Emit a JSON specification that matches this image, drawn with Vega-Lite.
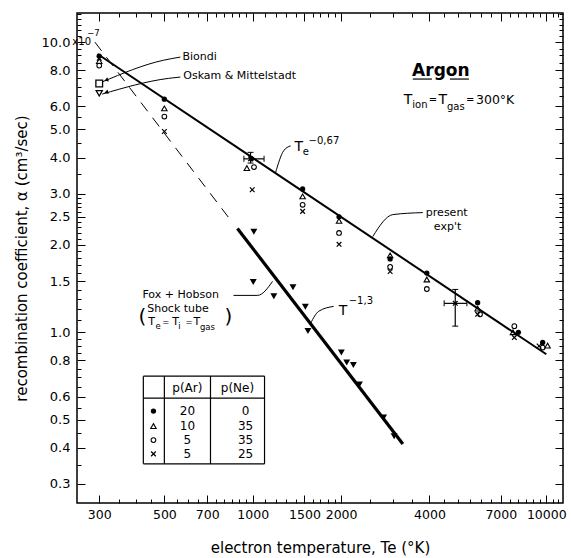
{
  "$schema": "https://vega.github.io/schema/vega-lite/v6.json",
  "width": 486,
  "height": 490,
  "autosize": "none",
  "padding": {"left": 77, "top": 13, "right": 8, "bottom": 55},
  "background": "white",
  "config": {
    "view": {"stroke": "black", "strokeWidth": 1.5},
    "font": "DejaVu Sans",
    "axis": {"grid": false, "domain": false, "tickColor": "black", "labelColor": "black", "titleColor": "black"}
  },
  "datasets": {
    "points": [
      {"T": 300, "alpha": 8.95, "s": "dot"}, {"T": 500, "alpha": 6.36, "s": "dot"}, {"T": 990, "alpha": 3.96, "s": "dot"},
      {"T": 1479, "alpha": 3.12, "s": "dot"}, {"T": 1968, "alpha": 2.5, "s": "dot"}, {"T": 2938, "alpha": 1.79, "s": "dot"},
      {"T": 3918, "alpha": 1.6, "s": "dot"}, {"T": 5836, "alpha": 1.265, "s": "dot"}, {"T": 8034, "alpha": 1.0, "s": "dot"},
      {"T": 9720, "alpha": 0.922, "s": "dot"}, {"T": 459, "alpha": 0.535, "s": "dot"},
      {"T": 300, "alpha": 8.6, "s": "tri"}, {"T": 500, "alpha": 5.91, "s": "tri"}, {"T": 955, "alpha": 3.68, "s": "tri"},
      {"T": 1479, "alpha": 2.94, "s": "tri"}, {"T": 1968, "alpha": 2.42, "s": "tri"}, {"T": 2938, "alpha": 1.84, "s": "tri"},
      {"T": 3918, "alpha": 1.52, "s": "tri"}, {"T": 5836, "alpha": 1.206, "s": "tri"}, {"T": 7700, "alpha": 1.0, "s": "tri"},
      {"T": 10100, "alpha": 0.9, "s": "tri"}, {"T": 459, "alpha": 0.475, "s": "tri"},
      {"T": 300, "alpha": 8.3, "s": "circ"}, {"T": 500, "alpha": 5.54, "s": "circ"}, {"T": 1010, "alpha": 3.71, "s": "circ"},
      {"T": 1479, "alpha": 2.75, "s": "circ"}, {"T": 1968, "alpha": 2.2, "s": "circ"}, {"T": 2938, "alpha": 1.68, "s": "circ"},
      {"T": 3918, "alpha": 1.41, "s": "circ"}, {"T": 5947, "alpha": 1.153, "s": "circ"}, {"T": 7783, "alpha": 1.05, "s": "circ"},
      {"T": 9720, "alpha": 0.886, "s": "circ"}, {"T": 459, "alpha": 0.425, "s": "circ"},
      {"T": 300, "alpha": 8.8, "s": "x"}, {"T": 500, "alpha": 4.92, "s": "x"}, {"T": 983, "alpha": 3.96, "s": "x"},
      {"T": 996, "alpha": 3.1, "s": "x"}, {"T": 1479, "alpha": 2.61, "s": "x"}, {"T": 1968, "alpha": 2.01, "s": "x"},
      {"T": 2938, "alpha": 1.62, "s": "x"}, {"T": 4896, "alpha": 1.258, "s": "x"}, {"T": 5836, "alpha": 1.153, "s": "x"},
      {"T": 7783, "alpha": 0.959, "s": "x"}, {"T": 9450, "alpha": 0.897, "s": "x"}, {"T": 459, "alpha": 0.381, "s": "x"},
      {"T": 300, "alpha": 7.2, "s": "sq"},
      {"T": 300, "alpha": 6.66, "s": "tdown"},
      {"T": 1009, "alpha": 2.22, "s": "fox"}, {"T": 1004, "alpha": 1.49, "s": "fox"}, {"T": 1180, "alpha": 1.33, "s": "fox"},
      {"T": 1371, "alpha": 1.43, "s": "fox"}, {"T": 1511, "alpha": 1.225, "s": "fox"}, {"T": 1542, "alpha": 1.01, "s": "fox"},
      {"T": 2004, "alpha": 0.852, "s": "fox"}, {"T": 2090, "alpha": 0.787, "s": "fox"}, {"T": 2202, "alpha": 0.772, "s": "fox"},
      {"T": 2309, "alpha": 0.661, "s": "fox"}, {"T": 2791, "alpha": 0.509, "s": "fox"}, {"T": 3031, "alpha": 0.438, "s": "fox"}
    ],
    "arrows": [
      {"T": 317, "alpha": 7.4, "a": -20},
      {"T": 317, "alpha": 6.72, "a": -14}
    ],
    "fits": [
      {"id": "present", "T": 296, "alpha": 9.1}, {"id": "present", "T": 10000, "alpha": 0.84},
      {"id": "fox", "T": 887, "alpha": 2.28}, {"id": "fox", "T": 3246, "alpha": 0.412},
      {"id": "dash", "T": 290, "alpha": 10.0}, {"id": "dash", "T": 850, "alpha": 2.4}
    ],
    "leaders": [
      {"id": "biondi", "T": 307, "alpha": 7.29}, {"id": "biondi", "T": 496, "alpha": 8.66}, {"id": "biondi", "T": 567, "alpha": 8.88},
      {"id": "oskam", "T": 307, "alpha": 6.62}, {"id": "oskam", "T": 516, "alpha": 7.5}, {"id": "oskam", "T": 567, "alpha": 7.58},
      {"id": "te", "T": 1196, "alpha": 3.547}, {"id": "te", "T": 1274, "alpha": 4.22}, {"id": "te", "T": 1346, "alpha": 4.39},
      {"id": "present", "T": 2564, "alpha": 2.138}, {"id": "present", "T": 3000, "alpha": 2.544}, {"id": "present", "T": 3797, "alpha": 2.585},
      {"id": "fox", "T": 860, "alpha": 1.34}, {"id": "fox", "T": 1038, "alpha": 1.34}, {"id": "fox", "T": 1168, "alpha": 1.497},
      {"id": "t13", "T": 1575, "alpha": 1.074}, {"id": "t13", "T": 1677, "alpha": 1.181}, {"id": "t13", "T": 1887, "alpha": 1.228}
    ],
    "rules": [
      {"T": 424, "T2": 1097, "alpha": 0.706, "alpha2": 0.706}, {"T": 424, "T2": 1097, "alpha": 0.352, "alpha2": 0.352},
      {"T": 424, "T2": 424, "alpha": 0.706, "alpha2": 0.352}, {"T": 1097, "T2": 1097, "alpha": 0.706, "alpha2": 0.352},
      {"T": 424, "T2": 1097, "alpha": 0.593, "alpha2": 0.593}, {"T": 500, "T2": 500, "alpha": 0.706, "alpha2": 0.352},
      {"T": 718, "T2": 718, "alpha": 0.706, "alpha2": 0.352},
      {"T": 3510, "T2": 4077, "alpha": 7.46, "alpha2": 7.46}, {"T": 4696, "T2": 5450, "alpha": 7.46, "alpha2": 7.46},
      {"T": 933, "T2": 1093, "alpha": 3.96, "alpha2": 3.96}, {"T": 983, "T2": 983, "alpha": 3.83, "alpha2": 4.17},
      {"T": 4488, "T2": 5365, "alpha": 1.258, "alpha2": 1.258}, {"T": 4896, "T2": 4896, "alpha": 1.05, "alpha2": 1.405}
    ],
    "capsV": [
      {"T": 933, "alpha": 3.96}, {"T": 1093, "alpha": 3.96}, {"T": 4488, "alpha": 1.258}, {"T": 5365, "alpha": 1.258}
    ],
    "capsH": [
      {"T": 983, "alpha": 3.83}, {"T": 983, "alpha": 4.17}, {"T": 4896, "alpha": 1.05}, {"T": 4896, "alpha": 1.405}
    ],
    "txt11": [
      {"T": 576, "alpha": 8.88, "label": "Biondi"},
      {"T": 580, "alpha": 7.62, "label": "Oskam & Mittelstadt"},
      {"T": 3888, "alpha": 2.585, "label": "present"},
      {"T": 4140, "alpha": 2.313, "label": "exp't"},
      {"T": 421, "alpha": 1.34, "label": "Fox + Hobson"},
      {"T": 437, "alpha": 1.2, "label": "Shock tube"},
      {"T": 441, "alpha": 1.082, "label": "T"},
      {"T": 532, "alpha": 1.082, "label": "T"},
      {"T": 628, "alpha": 1.082, "label": "T"}
    ],
    "txt10s": [
      {"T": 243, "alpha": 10.0, "label": "x10"}
    ],
    "txt8": [
      {"T": 466, "alpha": 1.049, "label": "e"},
      {"T": 492, "alpha": 1.082, "label": "="},
      {"T": 558, "alpha": 1.049, "label": "i"},
      {"T": 590, "alpha": 1.082, "label": "="},
      {"T": 661, "alpha": 1.041, "label": "gas"},
      {"T": 273, "alpha": 10.74, "label": "−7"}
    ],
    "paren": [
      {"T": 408, "alpha": 1.126, "label": "("},
      {"T": 801, "alpha": 1.126, "label": ")"}
    ],
    "txt14": [
      {"T": 1389, "alpha": 4.356, "label": "T"},
      {"T": 1963, "alpha": 1.181, "label": "T"},
      {"T": 3270, "alpha": 6.32, "label": "T"},
      {"T": 4290, "alpha": 6.32, "label": "T"}
    ],
    "txtEq": [
      {"T": 3981, "alpha": 6.32, "label": "="},
      {"T": 5325, "alpha": 6.32, "label": "="}
    ],
    "txt12": [
      {"T": 5761, "alpha": 6.32, "label": "300°K"}
    ],
    "txt10": [
      {"T": 1479, "alpha": 4.188, "label": "e"},
      {"T": 1550, "alpha": 4.568, "label": "−0,67"},
      {"T": 2123, "alpha": 1.278, "label": "−1,3"},
      {"T": 3497, "alpha": 6.075, "label": "ion"},
      {"T": 4586, "alpha": 5.98, "label": "gas"}
    ],
    "argon": [
      {"T": 4374, "alpha": 7.95, "label": "Argon"}
    ],
    "table": [
      {"T": 599, "alpha": 0.642, "label": "p(Ar)"}, {"T": 887, "alpha": 0.642, "label": "p(Ne)"},
      {"T": 599, "alpha": 0.535, "label": "20"}, {"T": 599, "alpha": 0.475, "label": "10"},
      {"T": 599, "alpha": 0.425, "label": "5"}, {"T": 599, "alpha": 0.381, "label": "5"},
      {"T": 945, "alpha": 0.535, "label": "0"}, {"T": 945, "alpha": 0.475, "label": "35"},
      {"T": 945, "alpha": 0.425, "label": "35"}, {"T": 945, "alpha": 0.381, "label": "25"}
    ]
  },
  "encoding": {
    "x": {"field": "T", "type": "quantitative", "scale": {"type": "log", "domain": [252, 11400], "nice": false}, "axis": null},
    "y": {"field": "alpha", "type": "quantitative", "scale": {"type": "log", "domain": [0.258, 12.6], "nice": false}, "axis": null}
  },
  "layer": [
    {
      "data": {"name": "points"},
      "transform": [{"filter": "datum.s == 'dot'"}],
      "mark": {"type": "point", "shape": "circle", "filled": true, "size": 28, "color": "black", "opacity": 1},
      "encoding": {
        "x": {"field": "T", "type": "quantitative", "scale": {"type": "log", "domain": [252, 11400], "nice": false},
          "axis": {"orient": "bottom", "ticks": false,
            "values": [300,500,700,1000,1500,2000,4000,7000,10000],
            "labelExpr": "'' + datum.value",
            "labelPadding": 5, "labelFontSize": 12.5, "labelOverlap": false, "labelFlush": false,
            "title": "electron temperature, Te (°K)", "titleFontSize": 15, "titleFontWeight": "normal", "titlePadding": 20}},
        "y": {"field": "alpha", "type": "quantitative", "scale": {"type": "log", "domain": [0.258, 12.6], "nice": false},
          "axis": {"orient": "left", "ticks": false,
            "values": [10,8,6,5,4,3,2.5,2,1.5,1,0.8,0.6,0.5,0.4,0.3],
            "labelExpr": "format(datum.value, '.1f')",
            "labelPadding": 7, "labelFontSize": 13, "labelOverlap": false, "labelFlush": false,
            "title": "recombination coefficient, α (cm³/sec)", "titleFontSize": 15, "titleFontWeight": "normal", "titlePadding": 12}}
      }
    },
    {
      "data": {"name": "points"},
      "transform": [{"filter": "datum.s == 'tri'"}],
      "mark": {"type": "point", "shape": "triangle-up", "filled": false, "size": 30, "color": "black", "strokeWidth": 1.1, "opacity": 1},
      "encoding": {
        "x": {"field": "T", "type": "quantitative", "scale": {"type": "log", "domain": [252, 11400], "nice": false},
          "axis": {"orient": "top", "labels": false, "title": null,
            "values": [300,350,400,450,500,550,600,650,700,750,800,850,900,950,1000,1100,1200,1300,1400,1500,1600,1700,1800,1900,2000,2500,3000,3500,4000,4500,5000,5500,6000,6500,7000,7500,8000,8500,9000,9500,10000,10500,11000],
            "tickSize": {"condition": {"test": "indexof([300,500,700,1000,1500,2000,4000,7000,10000], datum.value) >= 0", "value": -8}, "value": -4},
            "tickWidth": 1}},
        "y": {"field": "alpha", "type": "quantitative", "scale": {"type": "log", "domain": [0.258, 12.6], "nice": false},
          "axis": {"orient": "right", "labels": false, "title": null,
            "values": [0.3,0.35,0.4,0.45,0.5,0.55,0.6,0.65,0.7,0.75,0.8,0.85,0.9,0.95,1,1.1,1.2,1.3,1.4,1.5,1.6,1.7,1.8,1.9,2,2.1,2.2,2.3,2.4,2.5,2.6,2.7,2.8,2.9,3,3.5,4,4.5,5,5.5,6,6.5,7,7.5,8,8.5,9,9.5,10,10.5,11,11.5,12,12.5],
            "tickSize": {"condition": {"test": "indexof([10,8,6,5,4,3,2.5,2,1.5,1,0.8,0.6,0.5,0.4,0.3], datum.value) >= 0", "value": -8}, "value": -4},
            "tickWidth": 1}}
      }
    },
    {
      "data": {"name": "points"},
      "transform": [{"filter": "datum.s == 'circ'"}],
      "mark": {"type": "point", "shape": "circle", "filled": false, "size": 22, "color": "black", "strokeWidth": 1.1, "opacity": 1},
      "encoding": {
        "x": {"field": "T", "type": "quantitative", "scale": {"type": "log", "domain": [252, 11400], "nice": false},
          "axis": {"orient": "bottom", "labels": false, "title": null,
            "values": [300,350,400,450,500,550,600,650,700,750,800,850,900,950,1000,1100,1200,1300,1400,1500,1600,1700,1800,1900,2000,2500,3000,3500,4000,4500,5000,5500,6000,6500,7000,7500,8000,8500,9000,9500,10000,10500,11000],
            "tickSize": {"condition": {"test": "indexof([300,500,700,1000,1500,2000,4000,7000,10000], datum.value) >= 0", "value": -8}, "value": -4},
            "tickWidth": 1}},
        "y": {"field": "alpha", "type": "quantitative", "scale": {"type": "log", "domain": [0.258, 12.6], "nice": false},
          "axis": {"orient": "left", "labels": false, "title": null,
            "values": [0.3,0.35,0.4,0.45,0.5,0.55,0.6,0.65,0.7,0.75,0.8,0.85,0.9,0.95,1,1.1,1.2,1.3,1.4,1.5,1.6,1.7,1.8,1.9,2,2.1,2.2,2.3,2.4,2.5,2.6,2.7,2.8,2.9,3,3.5,4,4.5,5,5.5,6,6.5,7,7.5,8,8.5,9,9.5,10,10.5,11,11.5,12,12.5],
            "tickSize": {"condition": {"test": "indexof([10,8,6,5,4,3,2.5,2,1.5,1,0.8,0.6,0.5,0.4,0.3], datum.value) >= 0", "value": -8}, "value": -4},
            "tickWidth": 1}}
      }
    },
    {
      "data": {"name": "points"},
      "transform": [{"filter": "datum.s == 'x'"}],
      "mark": {"type": "point", "shape": "M-1,-1L1,1M-1,1L1,-1", "filled": false, "size": 22, "color": "black", "strokeWidth": 1.2, "opacity": 1}
    },
    {
      "data": {"name": "points"},
      "transform": [{"filter": "datum.s == 'sq'"}],
      "mark": {"type": "point", "shape": "square", "filled": false, "size": 45, "color": "black", "strokeWidth": 1.3, "opacity": 1}
    },
    {
      "data": {"name": "points"},
      "transform": [{"filter": "datum.s == 'tdown'"}],
      "mark": {"type": "point", "shape": "triangle-down", "filled": false, "size": 38, "color": "black", "strokeWidth": 1.3, "opacity": 1}
    },
    {
      "data": {"name": "points"},
      "transform": [{"filter": "datum.s == 'fox'"}],
      "mark": {"type": "point", "shape": "triangle-down", "filled": true, "size": 48, "color": "black", "opacity": 1}
    },
    {
      "data": {"name": "arrows"},
      "mark": {"type": "point", "shape": "triangle-left", "filled": true, "size": 20, "color": "black", "opacity": 1},
      "encoding": {"angle": {"field": "a", "type": "quantitative", "scale": null}}
    },
    {
      "data": {"name": "fits"},
      "transform": [{"filter": "datum.id == 'present'"}],
      "mark": {"type": "line", "color": "black", "strokeWidth": 2}
    },
    {
      "data": {"name": "fits"},
      "transform": [{"filter": "datum.id == 'fox'"}],
      "mark": {"type": "line", "color": "black", "strokeWidth": 3.2}
    },
    {
      "data": {"name": "fits"},
      "transform": [{"filter": "datum.id == 'dash'"}],
      "mark": {"type": "line", "color": "black", "strokeWidth": 1, "strokeDash": [11, 8]}
    },
    {
      "data": {"name": "leaders"},
      "mark": {"type": "line", "color": "black", "strokeWidth": 1, "interpolate": "monotone"},
      "encoding": {"detail": {"field": "id"}}
    },
    {
      "data": {"name": "rules"},
      "mark": {"type": "rule", "color": "black", "strokeWidth": 1.2},
      "encoding": {"x2": {"field": "T2"}, "y2": {"field": "alpha2"}}
    },
    {
      "data": {"name": "capsV"},
      "mark": {"type": "tick", "orient": "vertical", "size": 6, "thickness": 1, "color": "black", "opacity": 1}
    },
    {
      "data": {"name": "capsH"},
      "mark": {"type": "tick", "orient": "horizontal", "size": 6, "thickness": 1, "color": "black", "opacity": 1}
    },
    {
      "data": {"name": "txt11"},
      "mark": {"type": "text", "align": "left", "baseline": "middle", "fontSize": 11, "color": "black"},
      "encoding": {"text": {"field": "label"}}
    },
    {
      "data": {"name": "txt10s"},
      "mark": {"type": "text", "align": "left", "baseline": "middle", "fontSize": 10, "color": "black"},
      "encoding": {"text": {"field": "label"}}
    },
    {
      "data": {"name": "txt8"},
      "mark": {"type": "text", "align": "left", "baseline": "middle", "fontSize": 8.5, "color": "black"},
      "encoding": {"text": {"field": "label"}}
    },
    {
      "data": {"name": "paren"},
      "mark": {"type": "text", "align": "left", "baseline": "middle", "fontSize": 20, "color": "black"},
      "encoding": {"text": {"field": "label"}}
    },
    {
      "data": {"name": "txt14"},
      "mark": {"type": "text", "align": "left", "baseline": "middle", "fontSize": 14, "color": "black"},
      "encoding": {"text": {"field": "label"}}
    },
    {
      "data": {"name": "txtEq"},
      "mark": {"type": "text", "align": "left", "baseline": "middle", "fontSize": 10, "color": "black"},
      "encoding": {"text": {"field": "label"}}
    },
    {
      "data": {"name": "txt12"},
      "mark": {"type": "text", "align": "left", "baseline": "middle", "fontSize": 12.5, "color": "black"},
      "encoding": {"text": {"field": "label"}}
    },
    {
      "data": {"name": "txt10"},
      "mark": {"type": "text", "align": "left", "baseline": "middle", "fontSize": 10, "color": "black"},
      "encoding": {"text": {"field": "label"}}
    },
    {
      "data": {"name": "argon"},
      "mark": {"type": "text", "align": "center", "baseline": "middle", "fontSize": 17, "fontWeight": "bold", "color": "black"},
      "encoding": {"text": {"field": "label"}}
    },
    {
      "data": {"name": "table"},
      "mark": {"type": "text", "align": "center", "baseline": "middle", "fontSize": 12, "color": "black"},
      "encoding": {"text": {"field": "label"}}
    }
  ],
  "resolve": {"axis": {"x": "independent", "y": "independent"}}
}
